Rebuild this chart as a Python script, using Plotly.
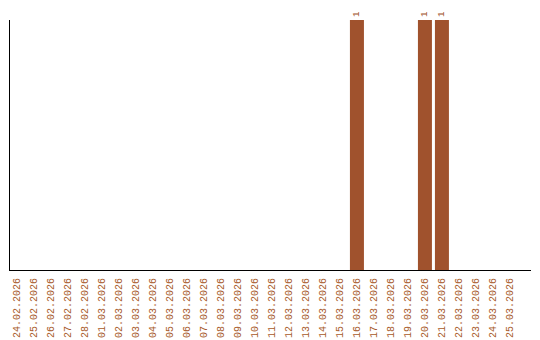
import plotly.graph_objects as go

dates = ["24.02.2026", "25.02.2026", "26.02.2026", "27.02.2026", "28.02.2026",
         "01.03.2026", "02.03.2026", "03.03.2026", "04.03.2026", "05.03.2026",
         "06.03.2026", "07.03.2026", "08.03.2026", "09.03.2026", "10.03.2026",
         "11.03.2026", "12.03.2026", "13.03.2026", "14.03.2026", "15.03.2026",
         "16.03.2026", "17.03.2026", "18.03.2026", "19.03.2026", "20.03.2026",
         "21.03.2026", "22.03.2026", "23.03.2026", "24.03.2026", "25.03.2026"]
counts = [0, 0, 0, 0, 0, 0, 0, 0, 0, 0,
          0, 0, 0, 0, 0, 0, 0, 0, 0, 0,
          1, 0, 0, 0, 1, 1, 0, 0, 0, 0]

color = "#a0522d"
label_color = "#a85a2a"
labels = [str(v) if v else "" for v in counts]

fig = go.Figure(go.Bar(
    x=list(range(len(dates))), y=counts, marker_color=color,
    marker_line_width=0,
    text=labels, textposition="outside", textangle=-90,
    textfont=dict(family="Liberation Mono", size=9, color=color),
    cliponaxis=False,
))
fig.update_layout(
    width=540, height=340,
    margin=dict(l=10, r=9, t=20, b=70, autoexpand=False),
    paper_bgcolor="white", plot_bgcolor="white",
    bargap=0.176, showlegend=False,
    uniformtext=dict(minsize=1),
    xaxis=dict(tickmode="array", tickvals=list(range(len(dates))), ticktext=dates,
               tickangle=-90, range=[-0.41, 30.24], showgrid=False, zeroline=False,
               showline=True, linecolor="black", linewidth=1, ticks="",
               automargin=False, ticklabelstandoff=3,
               tickfont=dict(family="Liberation Mono", size=10, color=label_color)),
    yaxis=dict(range=[0, 1], showgrid=False, zeroline=False, showticklabels=False,
               showline=True, linecolor="black", linewidth=1, ticks="",
               automargin=False),
)
fig.write_html("out.html")
